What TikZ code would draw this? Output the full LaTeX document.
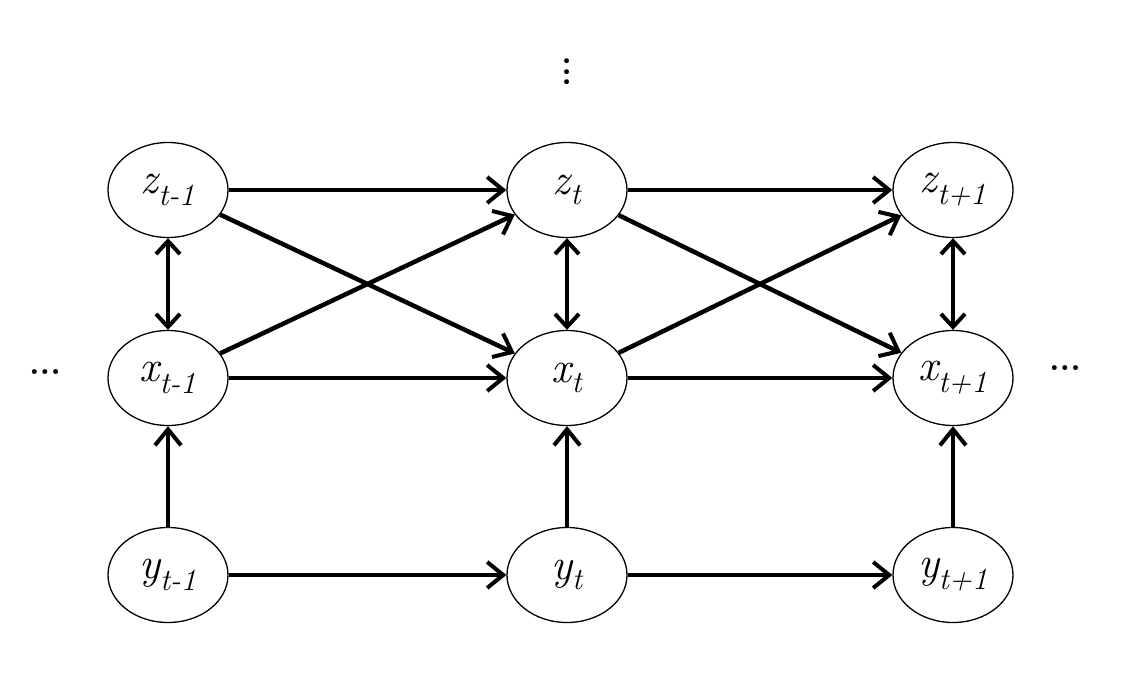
\documentclass[tikz,border=0pt]{standalone}
\usepackage{fontspec}
\usetikzlibrary{arrows.meta,shapes.geometric}
\begin{document}
\begin{tikzpicture}[x=1pt,y=-1pt,
  v/.style={ellipse,draw,line width=1.3pt,minimum width=120pt,minimum height=95pt,inner sep=0pt,font=\fontsize{44}{50}\selectfont\itshape,fill=white},
  e/.style={line width=4.5pt,-{Straight Barb[length=16pt,width=26pt,line width=4pt]}},
  b/.style={line width=4.5pt,{Straight Barb[length=13pt,width=24pt,line width=4pt]}-{Straight Barb[length=13pt,width=24pt,line width=4pt]}},
  d/.style={font=\fontsize{34}{40}\selectfont\bfseries}]
\useasboundingbox (0,0) rectangle (1122,698);
\foreach \c/\s/\x in {a/t-1/168,b/t/567,c/t+1/953}{
  \node[v] (z\c) at (\x,190) {z\textsubscript{\s}};
  \node[v] (x\c) at (\x,378) {x\textsubscript{\s}};
  \node[v] (y\c) at (\x,575) {y\textsubscript{\s}};
}
\draw[e] (za)--(zb); \draw[e] (zb)--(zc);
\draw[e] (xa)--(xb); \draw[e] (xb)--(xc);
\draw[e] (ya)--(yb); \draw[e] (yb)--(yc);
\draw[e] (za)--(xb); \draw[e] (xa)--(zb);
\draw[e] (zb)--(xc); \draw[e] (xb)--(zc);
\draw[e] (ya)--(xa); \draw[e] (yb)--(xb); \draw[e] (yc)--(xc);
\draw[b] (za)--(xa); \draw[b] (zb)--(xb); \draw[b] (zc)--(xc);
\node[d] (dt) at (567,72) {\rotatebox{90}{...}};
\node[d] (dl) at (45,372) {...};
\node[d] (dr) at (1065,368) {...};
\end{tikzpicture}
\end{document}
